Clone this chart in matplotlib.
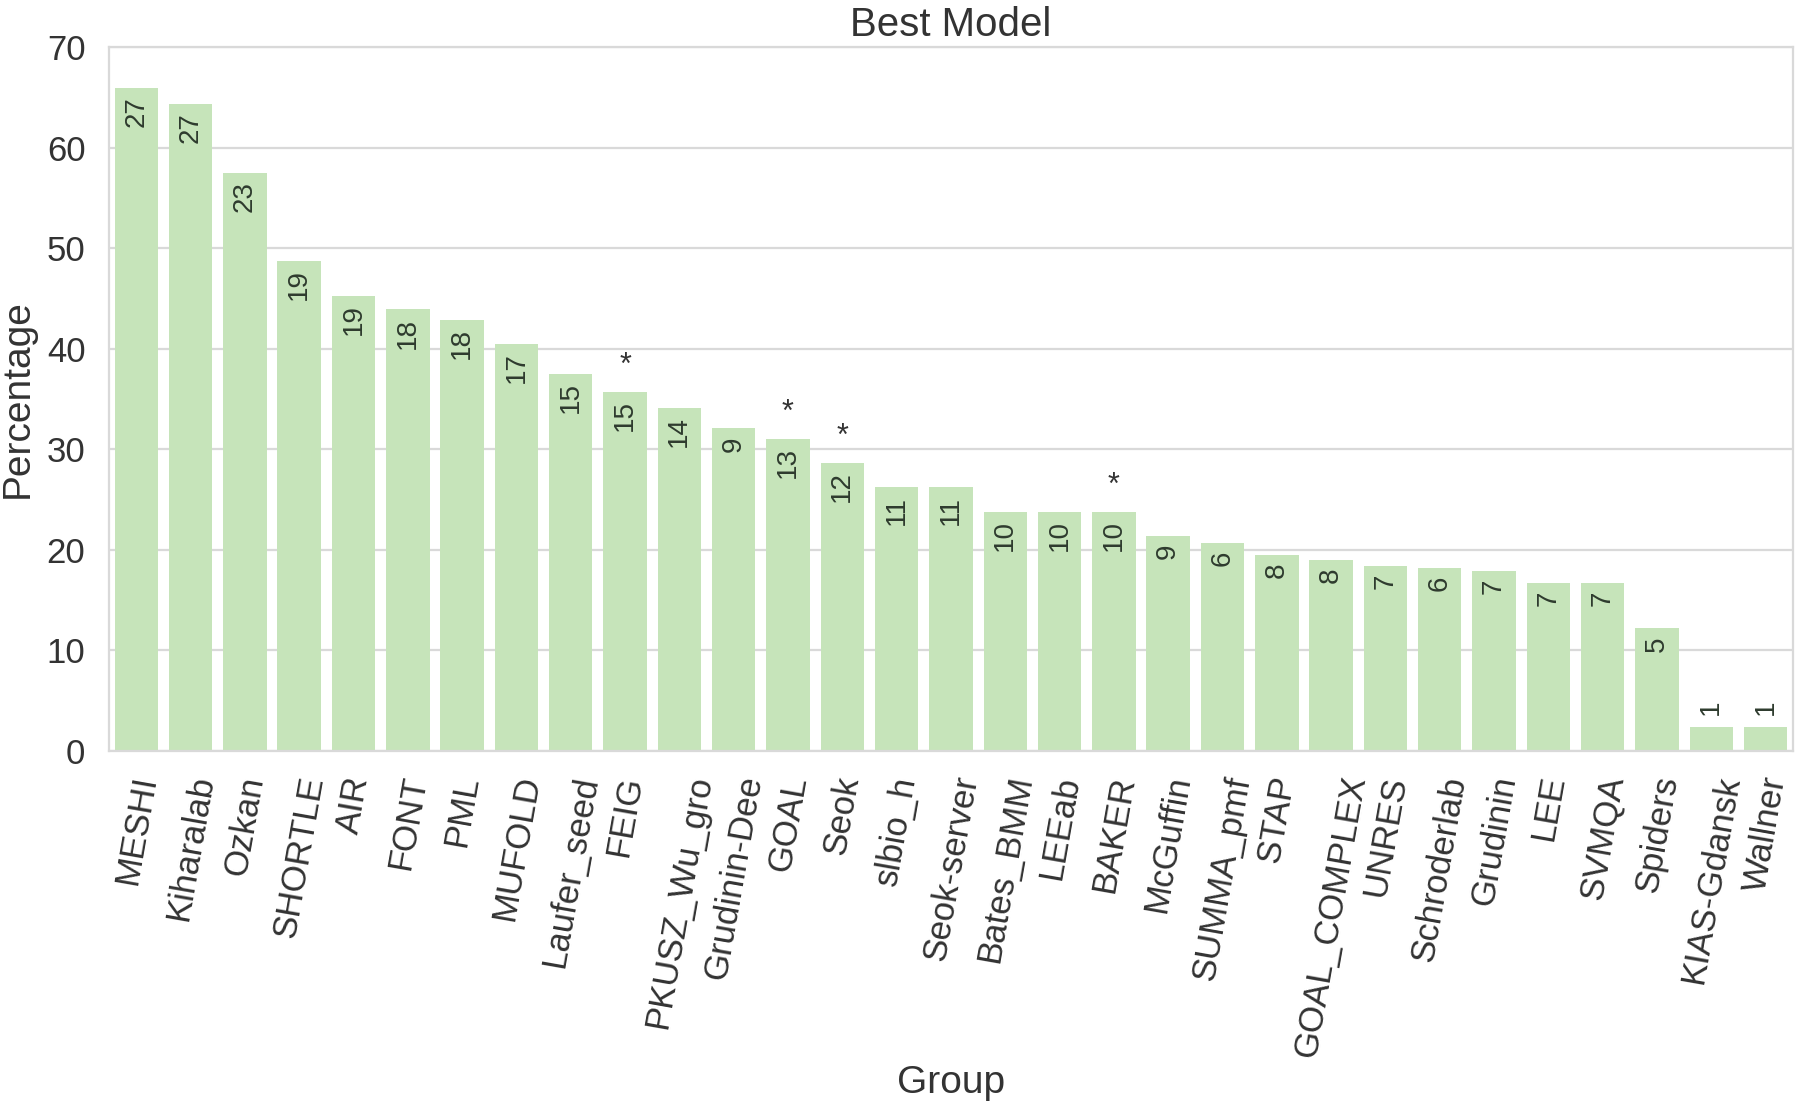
import matplotlib
matplotlib.use("Agg")
import matplotlib.pyplot as plt
import numpy as np

groups = [
    "MESHI", "Kiharalab", "Ozkan", "SHORTLE", "AIR", "FONT", "PML", "MUFOLD",
    "Laufer_seed", "FEIG", "PKUSZ_Wu_gro", "Grudinin-Dee", "GOAL", "Seok",
    "slbio_h", "Seok-server", "Bates_BMM", "LEEab", "BAKER", "McGuffin",
    "SUMMA_pmf", "STAP", "GOAL_COMPLEX", "UNRES", "Schroderlab", "Grudinin",
    "LEE", "SVMQA", "Spiders", "KIAS-Gdansk", "Wallner",
]
percentages = [
    65.9, 64.3, 57.5, 48.7, 45.2, 43.9, 42.9, 40.5, 37.5, 35.7, 34.1, 32.1,
    31.0, 28.6, 26.2, 26.2, 23.8, 23.8, 23.8, 21.4, 20.7, 19.5, 19.0, 18.4,
    18.2, 17.9, 16.7, 16.7, 12.2, 2.4, 2.4,
]
counts = [
    27, 27, 23, 19, 19, 18, 18, 17, 15, 15, 14, 9, 13, 12, 11, 11, 10, 10, 10,
    9, 6, 8, 8, 7, 6, 7, 7, 7, 5, 1, 1,
]
starred = ["FEIG", "GOAL", "Seok", "BAKER"]

plt.rcParams["font.family"] = ["Liberation Sans", "DejaVu Sans"]
text_col = "#333333"

fig = plt.figure(figsize=(18, 11.06), dpi=100)
ax = fig.add_axes([0.0606, 0.321, 0.9354, 0.6365])

x = np.arange(len(groups))
ax.bar(x, percentages, width=0.8, color="#c6e4ba", zorder=2)

ax.set_xlim(-0.5, len(groups) - 0.5)
ax.set_ylim(0, 70)
ax.set_yticks(range(0, 71, 10))
ax.grid(axis="y", color="#d9d9d9", linewidth=1.6, zorder=0)
ax.set_axisbelow(True)
for side in ax.spines.values():
    side.set_color("#d9d9d9")
    side.set_linewidth(1.6)

ax.set_xticks(x)
ax.set_xticklabels(groups, rotation=80, fontsize=25, color=text_col)
ax.tick_params(axis="y", labelsize=25, colors=text_col, length=0, pad=17)
ax.tick_params(axis="x", length=0, pad=16)

ax.set_title("Best Model", fontsize=29, color=text_col, pad=8)
ax.set_xlabel("Group", fontsize=28, color=text_col, labelpad=3)
ax.set_ylabel("Percentage", fontsize=28, color=text_col, labelpad=8)

# counts written on the bars
for xi, h, c in zip(x, percentages, counts):
    if h > 5:
        ax.text(xi, h - 0.8, str(c), rotation=90, ha="center", va="top",
                fontsize=20, color="#2e3b2e")
    else:
        ax.text(xi, h + 1.2, str(c), rotation=90, ha="center", va="bottom",
                fontsize=20, color="#2e3b2e")

for name in starred:
    i = groups.index(name)
    ax.text(x[i], percentages[i] + 1.1, "*", ha="center", va="bottom",
            fontsize=22, color="#333333")

fig.savefig("out.png", dpi=100)
